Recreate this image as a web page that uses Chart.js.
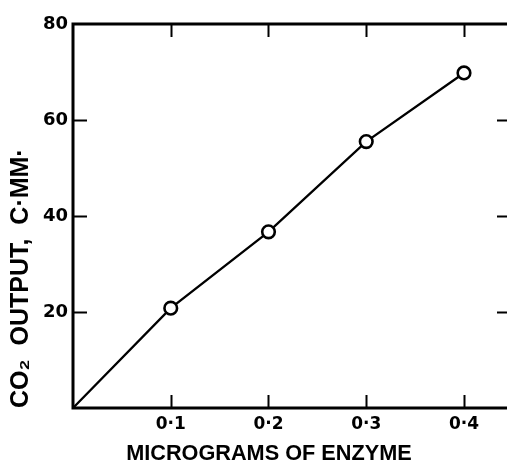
<!DOCTYPE html>
<html>
<head>
<meta charset="utf-8">
<script src="https://cdn.jsdelivr.net/npm/chart.js@4/dist/chart.umd.min.js"></script>
<style>
  html, body { margin: 0; padding: 0; background: #ffffff; }
  #wrap { width: 507px; height: 467px; position: relative; }
</style>
</head>
<body>
<div id="wrap"><canvas id="c"></canvas></div>
<script>
// ---- data ----
const enzymeMicrograms = [0, 0.1, 0.2, 0.3, 0.4];
const co2Output = [0, 20.8, 36.7, 55.5, 69.8];
const xTickValues = [0.1, 0.2, 0.3, 0.4];
const xTickLabels = ['0·1', '0·2', '0·3', '0·4'];
const yTickValues = [20, 40, 60, 80];
const yTickLabels = ['20', '40', '60', '80'];
const xTitle = 'MICROGRAMS OF ENZYME';
const yTitle = 'CO₂  OUTPUT,  C·MM·';

const INK = '#000000';

// draw frame and inward tick marks using the chart's own scales
const framePlugin = {
  id: 'frame',
  afterDatasetsDraw(chart) {
    const { ctx, chartArea: a, scales } = chart;
    const xs = scales.x, ys = scales.y;
    ctx.save();
    ctx.strokeStyle = INK;
    ctx.lineCap = 'butt';
    // frame: left, bottom, top
    ctx.lineWidth = 3;
    ctx.beginPath();
    ctx.moveTo(a.left, a.top - 1.5);
    ctx.lineTo(a.left, a.bottom + 1.5);
    ctx.moveTo(a.left - 1.5, a.bottom);
    ctx.lineTo(a.right, a.bottom);
    ctx.moveTo(a.left - 1.5, a.top);
    ctx.lineTo(a.right, a.top);
    ctx.stroke();
    // tick marks pointing inward
    ctx.lineWidth = 2;
    ctx.beginPath();
    xs.ticks.forEach(t => {
      const px = Math.round(xs.getPixelForValue(t.value)) + 0.5;
      ctx.moveTo(px, a.bottom);
      ctx.lineTo(px, a.bottom - 13);
      ctx.moveTo(px, a.top);
      ctx.lineTo(px, a.top + 13);
    });
    ys.ticks.forEach(t => {
      if (t.value >= ys.max) return;
      const py = Math.round(ys.getPixelForValue(t.value)) + 0.5;
      ctx.moveTo(a.left, py);
      ctx.lineTo(a.left + 14, py);
      ctx.moveTo(a.right, py);
      ctx.lineTo(a.right - 10, py);
    });
    ctx.stroke();
    ctx.restore();
  }
};

new Chart(document.getElementById('c'), {
  type: 'line',
  data: {
    datasets: [{
      data: enzymeMicrograms.map((x, i) => ({ x: x, y: co2Output[i] })),
      borderColor: INK,
      borderWidth: 2.3,
      tension: 0,
      fill: false,
      pointRadius: ctx => (ctx.dataIndex === 0 ? 0 : 6.3),
      pointBackgroundColor: '#ffffff',
      pointBorderColor: INK,
      pointBorderWidth: 2.6,
      clip: false
    }]
  },
  options: {
    responsive: true,
    maintainAspectRatio: false,
    animation: false,
    events: [],
    layout: { autoPadding: false, padding: { top: 24, right: 0, bottom: 0, left: 0 } },
    plugins: { legend: { display: false }, tooltip: { enabled: false } },
    scales: {
      x: {
        type: 'linear',
        position: 'bottom',
        min: 0,
        max: 0.444,
        afterBuildTicks: s => { s.ticks = xTickValues.map(v => ({ value: v })); },
        afterFit: s => { s.height = 59; },
        grid: { display: false, drawTicks: false },
        border: { display: false },
        ticks: {
          padding: 6,
          color: INK,
          maxRotation: 0,
          autoSkip: false,
          font: { family: 'DejaVu Sans', weight: 'bold', size: 17 },
          callback: v => { const i = xTickValues.findIndex(t => Math.abs(t - v) < 1e-9); return i >= 0 ? xTickLabels[i] : ''; }
        },
        title: {
          display: true,
          text: xTitle + '\u00a0\u00a0\u00a0\u00a0\u00a0\u00a0\u00a0',
          color: INK,
          font: { family: 'Liberation Sans', weight: 'bold', size: 21.7 },
          padding: { top: 0, bottom: 0 }
        }
      },
      y: {
        type: 'linear',
        position: 'left',
        min: 0,
        max: 80,
        afterBuildTicks: s => { s.ticks = yTickValues.map(v => ({ value: v })); },
        afterFit: s => { s.width = 73; },
        grid: { display: false, drawTicks: false },
        border: { display: false },
        ticks: {
          padding: 5,
          color: INK,
          autoSkip: false,
          font: { family: 'DejaVu Sans', weight: 'bold', size: 18 },
          callback: v => { const i = yTickValues.indexOf(v); return i >= 0 ? yTickLabels[i] : ''; }
        },
        title: {
          display: true,
          text: yTitle,
          align: 'start',
          color: INK,
          font: { family: 'Liberation Sans', weight: 'bold', size: 25 },
          padding: { top: 6, bottom: 0 }
        }
      }
    }
  },
  plugins: [framePlugin]
});
</script>
</body>
</html>
